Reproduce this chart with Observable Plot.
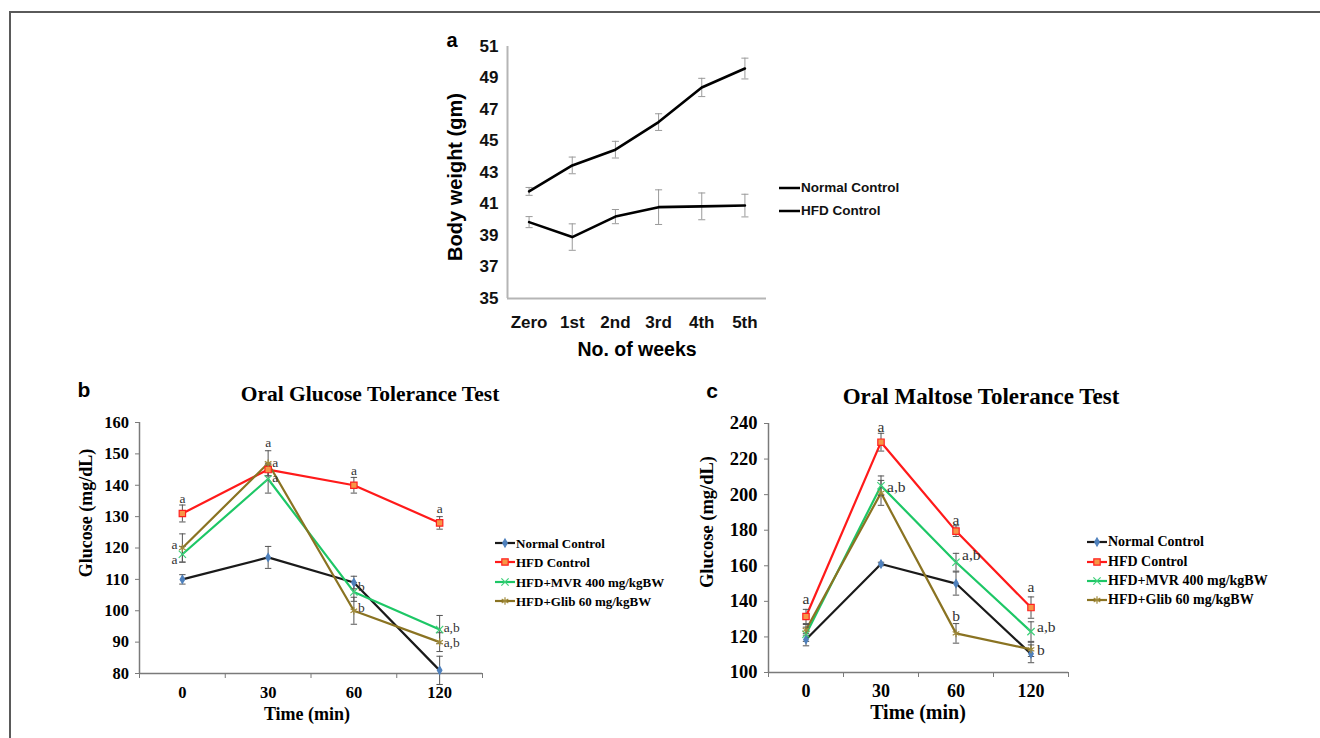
<!DOCTYPE html>
<html><head><meta charset="utf-8">
<script src="https://cdn.jsdelivr.net/npm/d3@7"></script>
<script src="https://cdn.jsdelivr.net/npm/@observablehq/plot@0.6"></script>
<style>
html,body{margin:0;padding:0;background:#fff;}
#page{position:relative;width:1320px;height:738px;overflow:hidden;background:#fff;}
#frame{position:absolute;left:9px;top:11px;width:1320px;height:740px;border-top:2px solid #5a5a5a;border-left:2px solid #5a5a5a;}
.box{position:absolute;}
.box svg{display:block;max-width:none;overflow:visible;}
.txt{position:absolute;white-space:nowrap;line-height:1;}
</style></head>
<body><div id="page"><div id="frame"></div></div>
<script>
// ---------- DATA ----------
// Panel a: body weight
const weeks = ["Zero", "1st", "2nd", "3rd", "4th", "5th"];
const weightTicks = [35, 37, 39, 41, 43, 45, 47, 49, 51];
const bwNormal = [39.85, 38.9, 40.2, 40.8, 40.85, 40.9];
const bwNormalErr = [0.35, 0.84, 0.45, 1.1, 0.85, 0.72];
const bwHFD = [41.8, 43.45, 44.45, 46.2, 48.4, 49.6];
const bwHFDErr = [0.25, 0.53, 0.53, 0.53, 0.58, 0.66];
const bwSeries = ["Normal Control", "HFD Control"];

// Panels b & c: tolerance tests
const times = ["0", "30", "60", "120"];
const groups = ["Normal Control", "HFD Control", "HFD+MVR 400 mg/kgBW", "HFD+Glib 60 mg/kgBW"];
const ogttTicks = [80, 90, 100, 110, 120, 130, 140, 150, 160];
const ogttNormal = [110, 117, 109, 81];
const ogttNormalErr = [1.5, 3.5, 2, 4.5];
const ogttHFD = [131, 145, 140, 128];
const ogttHFDErr = [2.7, 2, 2.5, 2];
const ogttMVR = [118, 142, 106, 94];
const ogttMVRErr = [2.5, 4.5, 3, 4.5];
const ogttGlib = [120, 147, 100, 90];
const ogttGlibErr = [4.5, 4, 4.3, 3];
const ogttLetters = [
  {t: "0", v: 135.8, text: "a", pos: "above"},
  {t: "0", v: 121.2, text: "a", pos: "left"},
  {t: "0", v: 116.4, text: "a", pos: "left"},
  {t: "30", v: 153.6, text: "a", pos: "above"},
  {t: "30", v: 147.3, text: "a", pos: "right"},
  {t: "30", v: 142.3, text: "a", pos: "right"},
  {t: "60", v: 144.6, text: "a", pos: "above"},
  {t: "60", v: 107.8, text: "b", pos: "right"},
  {t: "60", v: 101, text: "b", pos: "right"},
  {t: "120", v: 132.4, text: "a", pos: "above"},
  {t: "120", v: 94.6, text: "a,b", pos: "right"},
  {t: "120", v: 89.9, text: "a,b", pos: "right"}
];

const omttTicks = [100, 120, 140, 160, 180, 200, 220, 240];
const omttNormal = [118.5, 161, 150, 110.5];
const omttNormalErr = [3.5, 1, 6.5, 5];
const omttHFD = [131.5, 229.5, 179.5, 136.5];
const omttHFDErr = [4, 5, 3, 6];
const omttMVR = [121.5, 205, 162, 123];
const omttMVRErr = [4, 5.5, 5, 5.5];
const omttGlib = [124, 201, 122, 113];
const omttGlibErr = [3, 7, 5.5, 4];
const omttLetters = [
  {t: "0", v: 141.4, text: "a", pos: "above"},
  {t: "30", v: 238.1, text: "a", pos: "above"},
  {t: "30", v: 204.3, text: "a,b", pos: "right"},
  {t: "60", v: 185.9, text: "a", pos: "above"},
  {t: "60", v: 165.8, text: "a,b", pos: "right"},
  {t: "60", v: 132, text: "b", pos: "above"},
  {t: "120", v: 147.9, text: "a", pos: "above"},
  {t: "120", v: 125.4, text: "a,b", pos: "right"},
  {t: "120", v: 112.6, text: "b", pos: "right"}
];

// ---------- STYLE ----------
const SANS = "'Liberation Sans', Arial, sans-serif";
const SERIF = "'Liberation Serif', 'Times New Roman', serif";
const groupStyle = {
  "Normal Control": {line: "#1a1a1a", symbol: "diamond", mfill: "#4f81bd", mstroke: "#4f81bd", r: 2.4},
  "HFD Control": {line: "#ff1a1a", symbol: "square", mfill: "#f79646", mstroke: "#ff2020", r: 3.6},
  "HFD+MVR 400 mg/kgBW": {line: "#1dc766", symbol: "times", mfill: "none", mstroke: "#3fd07a", r: 3.4},
  "HFD+Glib 60 mg/kgBW": {line: "#8a7322", symbol: "asterisk", mfill: "none", mstroke: "#a08a3a", r: 3.6}
};
const capSymbol = {draw(ctx, size) { const w = Math.sqrt(size); ctx.moveTo(-w / 2, 0); ctx.lineTo(w / 2, 0); }};

const page = document.getElementById("page");
function put(node, left, top) {
  const d = document.createElement("div");
  d.className = "box";
  d.style.left = left + "px"; d.style.top = top + "px";
  d.appendChild(node); page.appendChild(d);
}
function label(text, x, y, o) {
  const d = document.createElement("div");
  d.className = "txt";
  d.textContent = text;
  const tx = o.anchor === "start" ? "0" : "-50%";
  d.style.left = x + "px"; d.style.top = y + "px";
  d.style.fontFamily = o.font; d.style.fontSize = o.size + "px";
  d.style.fontWeight = o.weight || "bold"; d.style.color = o.color || "#000";
  d.style.transform = `translate(${tx},-50%)` + (o.rotate ? ` rotate(${o.rotate}deg)` : "");
  page.appendChild(d);
}
function rows(name, vals, errs) { return vals.map((v, i) => ({name, x: i + 0.5, y: v, err: errs[i]})); }

// ---------- PANEL a ----------
const aRows = [rows(bwSeries[0], bwNormal, bwNormalErr), rows(bwSeries[1], bwHFD, bwHFDErr)];
const plotA = Plot.plot({
  width: 350, height: 350, marginLeft: 77, marginRight: 14, marginTop: 26, marginBottom: 72,
  x: {domain: [0, weeks.length]}, y: {domain: [weightTicks[0], weightTicks[weightTicks.length - 1]]},
  style: {fontFamily: SANS, fontSize: "17px", fontWeight: "bold", color: "#111", background: "transparent"},
  marks: [
    Plot.ruleX([0], {stroke: "#b5b5b5", strokeWidth: 2}),
    Plot.ruleY([weightTicks[0]], {stroke: "#b5b5b5", strokeWidth: 2}),
    Plot.axisY(weightTicks, {tickSize: 0, tickPadding: 9, label: null}),
    Plot.axisX(weeks.map((_, i) => i + 0.5), {tickSize: 0, tickPadding: 17, tickFormat: d => weeks[Math.floor(d)], label: null}),
    ...aRows.map(r => Plot.ruleX(r, {x: "x", y1: d => d.y - d.err, y2: d => d.y + d.err, stroke: "#9a9a9a", strokeWidth: 1})),
    ...aRows.map(r => Plot.dot(r, {x: "x", y: d => d.y + d.err, symbol: capSymbol, r: 4, stroke: "#9a9a9a", fill: "none", strokeWidth: 1})),
    ...aRows.map(r => Plot.dot(r, {x: "x", y: d => d.y - d.err, symbol: capSymbol, r: 4, stroke: "#9a9a9a", fill: "none", strokeWidth: 1})),
    ...aRows.map(r => Plot.line(r, {x: "x", y: "y", stroke: "#000", strokeWidth: 2.6}))
  ]
});
put(plotA, 430, 20);
label("a", 452, 40, {font: SANS, size: 20});
label("Body weight (gm)", 455, 177, {font: SANS, size: 20, rotate: -90});
label("No. of weeks", 637, 350, {font: SANS, size: 19.5});
// legend a
bwSeries.forEach((name, i) => {
  const y = 188 + i * 23.4;
  const svg = d3.create("svg").attr("width", 22).attr("height", 10);
  svg.append("line").attr("x1", 0).attr("x2", 21).attr("y1", 5).attr("y2", 5).attr("stroke", "#000").attr("stroke-width", 2.5);
  put(svg.node(), 779, y - 5);
  label(name, 801, y, {font: SANS, size: 13.5, anchor: "start", color: "#111"});
});

// ---------- PANELS b, c ----------
function tolerancePlot(cfg) {
  const data = cfg.series.map(([name, vals, errs]) => rows(name, vals, errs));
  const all = data.flat();
  const n = times.length;
  const ticks = cfg.ticks;
  const L = cfg.letters;
  const xi = d => times.indexOf(d.t) + 0.5;
  const lt = (pos) => L.filter(d => d.pos === pos);
  const tstyle = {fontFamily: SERIF, fontSize: cfg.letterSize, fontWeight: "normal", fill: "#333"};
  return Plot.plot({
    width: cfg.width, height: cfg.height,
    marginLeft: cfg.ml, marginRight: cfg.mr, marginTop: cfg.mt, marginBottom: cfg.mb,
    x: {domain: [0, n]}, y: {domain: [ticks[0], ticks[ticks.length - 1]]},
    style: {fontFamily: SERIF, fontSize: cfg.tickSize + "px", fontWeight: "bold", color: "#000", background: "transparent"},
    marks: [
      Plot.ruleX([0], {stroke: "#7a7a7a", strokeWidth: 1.5}),
      Plot.ruleY([ticks[0]], {stroke: "#7a7a7a", strokeWidth: 1.5}),
      Plot.axisY(ticks, {tickSize: 4, tickPadding: cfg.ypad, stroke: "#7a7a7a", fill: "#000", label: null}),
      Plot.axisX(d3.range(n + 1), {tickSize: 5, tickFormat: () => "", stroke: "#7a7a7a", label: null}),
      Plot.axisX(times.map((_, i) => i + 0.5), {tickSize: 0, tickPadding: cfg.xpad, fontSize: cfg.xtickSize, tickFormat: d => times[Math.floor(d)], label: null}),
      ...data.map(r => Plot.line(r, {x: "x", y: "y", stroke: groupStyle[r[0].name].line, strokeWidth: 2.2})),
      Plot.ruleX(all, {x: "x", y1: d => d.y - d.err, y2: d => d.y + d.err, stroke: "#555", strokeWidth: 1}),
      Plot.dot(all, {x: "x", y: d => d.y + d.err, symbol: capSymbol, r: 3.6, stroke: "#555", fill: "none", strokeWidth: 1}),
      Plot.dot(all, {x: "x", y: d => d.y - d.err, symbol: capSymbol, r: 3.6, stroke: "#555", fill: "none", strokeWidth: 1}),
      ...data.map(r => {
        const s = groupStyle[r[0].name];
        return Plot.dot(r, {x: "x", y: "y", symbol: s.symbol, r: s.r, fill: s.mfill, stroke: s.mstroke, strokeWidth: 1.2});
      }),
      Plot.text(lt("above"), {x: xi, y: "v", text: "text", textAnchor: "middle", ...tstyle}),
      Plot.text(lt("right"), {x: xi, y: "v", text: "text", textAnchor: "start", dx: cfg.rdx, ...tstyle}),
      Plot.text(lt("left"), {x: xi, y: "v", text: "text", textAnchor: "end", dx: -5, ...tstyle})
    ]
  });
}
function legend(x0, ys, size) {
  groups.forEach((name, i) => {
    const s = groupStyle[name];
    const svg = d3.create("svg").attr("width", 22).attr("height", 12).style("overflow", "visible");
    svg.append("line").attr("x1", 0).attr("x2", 20).attr("y1", 6).attr("y2", 6).attr("stroke", s.line).attr("stroke-width", 2.2);
    const sym = {diamond: d3.symbolDiamond, square: d3.symbolSquare, times: d3.symbolTimes, asterisk: d3.symbolAsterisk}[s.symbol];
    svg.append("path").attr("transform", "translate(10,6)").attr("d", d3.symbol(sym, s.r * s.r * Math.PI)())
      .attr("fill", s.mfill).attr("stroke", s.mstroke).attr("stroke-width", 1.2);
    put(svg.node(), x0, ys[i] - 6);
    label(name, x0 + 21, ys[i], {font: SERIF, size, anchor: "start"});
  });
}

const plotB = tolerancePlot({
  series: [[groups[0], ogttNormal, ogttNormalErr], [groups[1], ogttHFD, ogttHFDErr], [groups[2], ogttMVR, ogttMVRErr], [groups[3], ogttGlib, ogttGlibErr]],
  ticks: ogttTicks, letters: ogttLetters,
  width: 440, height: 320, ml: 79, mr: 18, mt: 22, mb: 47,
  tickSize: 16.5, xtickSize: 16.5, ypad: 6.5, xpad: 13, letterSize: 13.5, rdx: 4
});
put(plotB, 60, 400);
label("b", 84, 389, {font: SANS, size: 21});
label("Oral Glucose Tolerance Test", 370, 394.5, {font: SERIF, size: 21.5});
label("Glucose (mg/dL)", 86, 513, {font: SERIF, size: 18, rotate: -90});
label("Time (min)", 307, 714, {font: SERIF, size: 18});
legend(495, [543.3, 562.3, 581.7, 600.7], 13);

const plotC = tolerancePlot({
  series: [[groups[0], omttNormal, omttNormalErr], [groups[1], omttHFD, omttHFDErr], [groups[2], omttMVR, omttMVRErr], [groups[3], omttGlib, omttGlibErr]],
  ticks: omttTicks, letters: omttLetters,
  width: 400, height: 320, ml: 78, mr: 22, mt: 23, mb: 48,
  tickSize: 18.5, xtickSize: 18, ypad: 7, xpad: 12, letterSize: 15.5, rdx: 6
});
put(plotC, 690, 400);
label("c", 712, 389.5, {font: SANS, size: 21});
label("Oral Maltose Tolerance Test", 981, 396, {font: SERIF, size: 23});
label("Glucose (mg/dL)", 706.5, 522, {font: SERIF, size: 18.5, rotate: -90});
label("Time (min)", 918, 711.5, {font: SERIF, size: 20});
legend(1087, [541.7, 561.7, 580.7, 600], 14);
</script>
</body></html>
